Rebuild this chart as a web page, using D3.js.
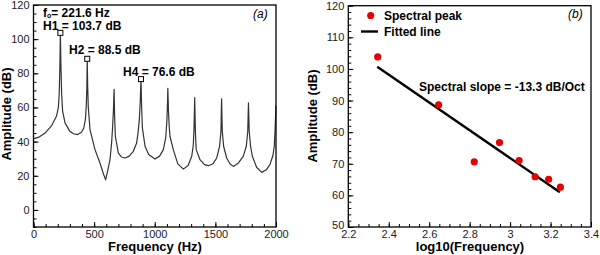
<!DOCTYPE html>
<html>
<head>
<meta charset="utf-8">
<script src="https://cdn.jsdelivr.net/npm/d3@7"></script>
<style>
  body { margin: 0; background: #fff; }
  svg text { font-family: "Liberation Sans", Arial, sans-serif; }
</style>
</head>
<body>
<svg id="chart" width="600" height="255"></svg>
<script>
// spectrum
var specFreq = [0, 50, 95, 150, 190, 205, 212, 218, 221.6, 226, 232, 240, 260, 300, 330, 364, 395, 415, 428, 436, 440, 443.2,
  447, 452, 466, 507, 548, 575, 595, 612, 631, 645, 652, 659, 664.8, 669, 675, 700, 725, 755, 790, 823, 850, 862, 873, 880, 886.4,
  892, 898, 920, 950, 1002, 1040, 1071, 1090, 1100, 1104, 1108, 1113, 1120, 1126, 1153, 1190, 1236, 1275, 1305, 1318, 1324, 1329.6,
  1335, 1342, 1373, 1410, 1442, 1480, 1511, 1535, 1546, 1551.2, 1557, 1568, 1593, 1620, 1648, 1690, 1730, 1755, 1767, 1772.8,
  1779, 1790, 1805, 1840, 1882, 1920, 1950, 1975, 1986, 1993, 2000];
var specAmp = [41.6, 42.8, 45, 49.4, 55, 60, 68, 85, 103.7, 85, 68, 58, 51, 46, 44.6, 44.1, 45.5, 48, 53, 62, 72, 88.5,
  72, 60, 47, 35.3, 27.5, 21.5, 17.6, 23, 29.4, 40, 48, 58, 70.6, 55, 43, 33.3, 31, 30.4, 31.5, 34.3, 39, 45, 53, 63, 76.6,
  60, 48, 37.3, 32.5, 29.8, 31.5, 35.3, 42, 52, 60, 71.2, 58, 48, 43, 35.3, 27, 23.9, 26, 31.4, 38, 48, 65.8,
  46, 35.3, 29.4, 26.5, 25.9, 27, 30.4, 37.3, 46, 65.1, 46, 37.3, 30.4, 27, 25.5, 27.5, 31.4, 37.3, 46, 62.7,
  46, 37.3, 31.4, 25, 22, 23.5, 26.5, 32, 37.3, 48, 61];

// marked harmonics in panel (a)
var markFreq = [221.6, 443.2, 886.4];
var markAmp = [103.7, 88.5, 76.6];

// spectral peaks for panel (b)
var peakFreq = [221.6, 443.2, 664.8, 886.4, 1108, 1329.6, 1551.2, 1772.8];
var peakAmp = [103.8, 88.6, 70.6, 76.7, 71.0, 65.9, 65.1, 62.6];

// fitted line end points (log10 f, dB)
var fitX = [2.343, 3.246];
var fitY = [100.7, 61.0];

var xTicksA = [0, 500, 1000, 1500, 2000];
var yTicksA = [0, 20, 40, 60, 80, 100, 120];
var xTicksB = [2.2, 2.4, 2.6, 2.8, 3, 3.2, 3.4];
var yTicksB = [50, 60, 70, 80, 90, 100, 110, 120];

var svg = d3.select("#chart");

function frame(g, x, y) {
  g.append("rect")
    .attr("x", x.range()[0]).attr("y", y.range()[1])
    .attr("width", x.range()[1] - x.range()[0])
    .attr("height", y.range()[0] - y.range()[1])
    .attr("fill", "none").attr("stroke", "#000").attr("stroke-width", 1.3);
}

function axes(g, x, y, xt, yt, xMinor, yMinor, fmt) {
  var h = y.range()[0], l = x.range()[0];
  g.append("g").attr("transform", "translate(0," + h + ")")
    .call(d3.axisBottom(x).tickValues(xt).tickSizeInner(-5).tickSizeOuter(0).tickPadding(3).tickFormat(fmt));
  g.append("g").attr("transform", "translate(0," + h + ")")
    .call(d3.axisBottom(x).tickValues(xMinor).tickSizeInner(-3).tickSizeOuter(0).tickFormat(""));
  g.append("g").attr("class", "yax").attr("transform", "translate(" + l + ",0)")
    .call(d3.axisLeft(y).tickValues(yt).tickSizeInner(-5).tickSizeOuter(0).tickPadding(4));
  g.append("g").attr("transform", "translate(" + l + ",0)")
    .call(d3.axisLeft(y).tickValues(yMinor).tickSizeInner(-3).tickSizeOuter(0).tickFormat(""));
  g.selectAll(".domain").remove();
  g.selectAll(".tick line").attr("stroke", "#000").attr("stroke-width", 1);
  g.selectAll(".tick text").attr("font-size", 11).attr("fill", "#222")
    .attr("font-family", "'Liberation Sans', Arial, sans-serif");
}

// ---------- panel (a) ----------
var xA = d3.scaleLinear().domain([0, 2000]).range([33.5, 276]);
var yA = d3.scaleLinear().domain([-10, 120]).range([227, 5]);
var gA = svg.append("g");

axes(gA, xA, yA, xTicksA, yTicksA,
  d3.range(0, 2001, 100), d3.range(-10, 121, 5), d3.format("d"));

var spec = specFreq.map(function(f, i) { return [f, specAmp[i]]; });
gA.append("path")
  .datum(spec)
  .attr("fill", "none")
  .attr("stroke", "#333")
  .attr("stroke-width", 1.2)
  .attr("stroke-linejoin", "round")
  .attr("d", d3.line().x(function(d) { return xA(d[0]); }).y(function(d) { return yA(d[1]); }));

gA.selectAll("rect.mark")
  .data(markFreq)
  .enter().append("rect")
    .attr("class", "mark")
    .attr("x", function(d) { return xA(d) - 2.5; })
    .attr("y", function(d, i) { return yA(markAmp[i]) - 2.5; })
    .attr("width", 5).attr("height", 5)
    .attr("fill", "#fff").attr("stroke", "#000").attr("stroke-width", 1);

frame(gA, xA, yA);

var f0 = gA.append("text").attr("x", 43).attr("y", 17).attr("font-size", 12).attr("font-weight", "bold");
f0.append("tspan").text("f");
f0.append("tspan").attr("font-size", 7).attr("dy", 0.5).text("o");
f0.append("tspan").attr("dy", -0.5).text("= 221.6 Hz");
gA.append("text").attr("x", 43).attr("y", 29.5).attr("font-size", 12).attr("font-weight", "bold").text("H1 = 103.7 dB");
gA.append("text").attr("x", 69).attr("y", 54).attr("font-size", 12).attr("font-weight", "bold").text("H2 = 88.5 dB");
gA.append("text").attr("x", 123).attr("y", 76).attr("font-size", 12).attr("font-weight", "bold").text("H4 = 76.6 dB");
gA.append("text").attr("x", 253).attr("y", 18).attr("font-size", 12).attr("font-style", "italic").text("(a)");

gA.append("text").attr("x", 155).attr("y", 251).attr("text-anchor", "middle")
  .attr("font-size", 13).attr("font-weight", "bold").text("Frequency (Hz)");
gA.append("text").attr("transform", "translate(11,114) rotate(-90)").attr("text-anchor", "middle")
  .attr("font-size", 13).attr("font-weight", "bold").text("Amplitude (dB)");

// ---------- panel (b) ----------
var xB = d3.scaleLinear().domain([2.2, 3.4]).range([348.3, 591]);
var yB = d3.scaleLinear().domain([50, 120]).range([227, 5.7]);
var gB = svg.append("g");

axes(gB, xB, yB, xTicksB, yTicksB,
  d3.range(2.2, 3.401, 0.05), d3.range(50, 121, 2), function(d) { return d3.format("")(+d.toFixed(1)); });

// the bottom "50" sits a little higher, like in the original
gB.selectAll(".yax .tick text").filter(function(d) { return d === 50; }).attr("dy", "0.1em");

gB.append("line")
  .attr("x1", xB(fitX[0])).attr("y1", yB(fitY[0]))
  .attr("x2", xB(fitX[1])).attr("y2", yB(fitY[1]))
  .attr("stroke", "#000").attr("stroke-width", 2.4);

gB.selectAll("circle.pk")
  .data(peakFreq)
  .enter().append("circle")
    .attr("class", "pk")
    .attr("cx", function(d) { return xB(Math.log10(d)); })
    .attr("cy", function(d, i) { return yB(peakAmp[i]); })
    .attr("r", 3.6)
    .attr("fill", "#e60000");

frame(gB, xB, yB);

// legend
gB.append("circle").attr("cx", 370.7).attr("cy", 15.5).attr("r", 3.6).attr("fill", "#e60000");
gB.append("text").attr("x", 384).attr("y", 20).attr("font-size", 12).attr("font-weight", "bold").text("Spectral peak");
gB.append("line").attr("x1", 361).attr("x2", 378).attr("y1", 31.5).attr("y2", 31.5)
  .attr("stroke", "#000").attr("stroke-width", 2.4);
gB.append("text").attr("x", 384).attr("y", 35.5).attr("font-size", 12).attr("font-weight", "bold").text("Fitted line");
gB.append("text").attr("x", 568).attr("y", 18).attr("font-size", 12).attr("font-style", "italic").text("(b)");

gB.append("text").attr("x", 419).attr("y", 91).attr("font-size", 12).attr("font-weight", "bold")
  .text("Spectral slope = -13.3 dB/Oct");

gB.append("text").attr("x", 470).attr("y", 251).attr("text-anchor", "middle")
  .attr("font-size", 13).attr("font-weight", "bold").text("log10(Frequency)");
gB.append("text").attr("transform", "translate(317,116) rotate(-90)").attr("text-anchor", "middle")
  .attr("font-size", 13).attr("font-weight", "bold").text("Amplitude (dB)");
</script>
</body>
</html>
